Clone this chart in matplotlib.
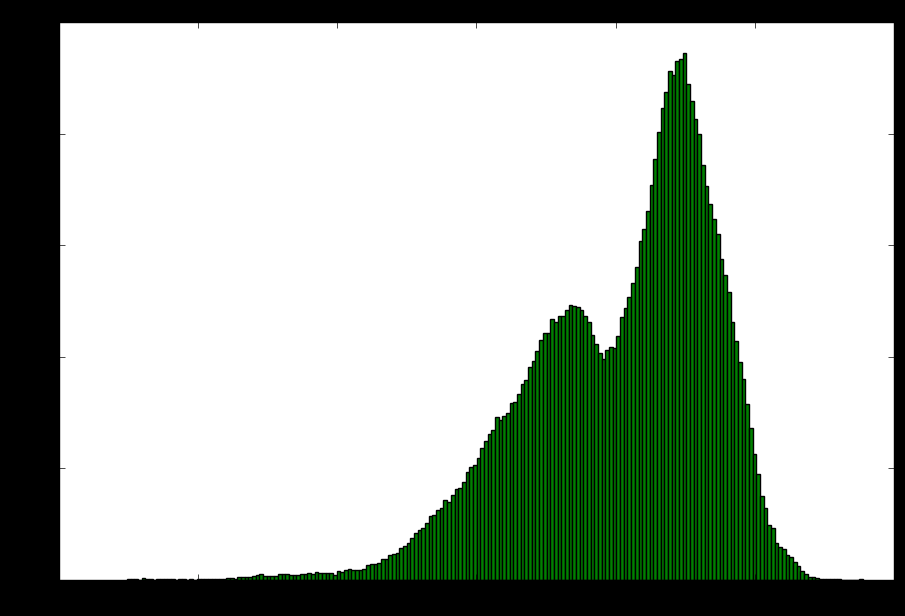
import numpy as np
import matplotlib
matplotlib.use("Agg")
import matplotlib.pyplot as plt

plt.style.use("classic")

# histogram counts, 200 bins
counts = [
    45, 45, 31, 22, 76, 67, 31, 22, 31, 31,
    31, 31, 31, 22, 31, 31, 22, 31, 22, 45,
    45, 45, 45, 58, 58, 58, 58, 76, 76, 58,
    121, 121, 121, 121, 193, 211, 255, 193, 193, 193,
    193, 269, 282, 255, 237, 237, 237, 255, 255, 300,
    282, 345, 327, 327, 336, 327, 237, 417, 372, 461,
    506, 461, 461, 461, 506, 659, 730, 730, 775, 954,
    954, 1107, 1151, 1223, 1420, 1537, 1644, 1868, 2092, 2227,
    2316, 2540, 2854, 2899, 3123, 3212, 3571, 3481, 3795, 4063,
    4108, 4377, 4825, 5049, 5139, 5452, 5900, 6214, 6527, 6707,
    7289, 7155, 7334, 7468, 7916, 7961, 8319, 8767, 8947, 9529,
    9798, 10246, 10739, 11052, 11052, 11679, 11545, 11814, 11814, 12083,
    12307, 12262, 12217, 12083, 11814, 11545, 10963, 10559, 10156, 9887,
    10291, 10425, 10380, 10918, 11769, 12186, 12665, 13292, 14036, 15174,
    15738, 16518, 17683, 18847, 20057, 21132, 21876, 22817, 22611, 23238,
    23327, 23596, 22207, 21473, 20639, 19994, 18579, 17638, 16831, 16159,
    15487, 14367, 13651, 12889, 11545, 10694, 9766, 9005, 7885, 6810,
    5645, 4749, 3763, 3212, 2464, 2316, 1671, 1492, 1389, 1120,
    1017, 806, 627, 417, 269, 148, 121, 112, 67, 58,
    58, 45, 45, 31, 13, 0, 0, 0, 0, 45,
]
data_min = 24.4
data_max = 288.9
x_ticks = [0, 50, 100, 150, 200, 250, 300]
y_ticks = [0, 5000, 10000, 15000, 20000, 25000]

edges = np.linspace(data_min, data_max, len(counts) + 1)
centers = (edges[:-1] + edges[1:]) / 2

fig = plt.figure(figsize=(9.05, 6.16), dpi=100, facecolor="black")
ax = fig.add_axes([0.0652, 0.0584, 0.9226, 0.9059])
ax.set_facecolor("white")

ax.hist(centers, bins=edges, weights=counts, color="green", edgecolor="black", linewidth=1)

ax.set_xlim(x_ticks[0], x_ticks[-1])
ax.set_ylim(y_ticks[0], y_ticks[-1])
ax.set_xticks(x_ticks)
ax.set_yticks(y_ticks)
ax.tick_params(colors="black", labelcolor="black")

fig.savefig("out.png", dpi=100, facecolor=fig.get_facecolor())
